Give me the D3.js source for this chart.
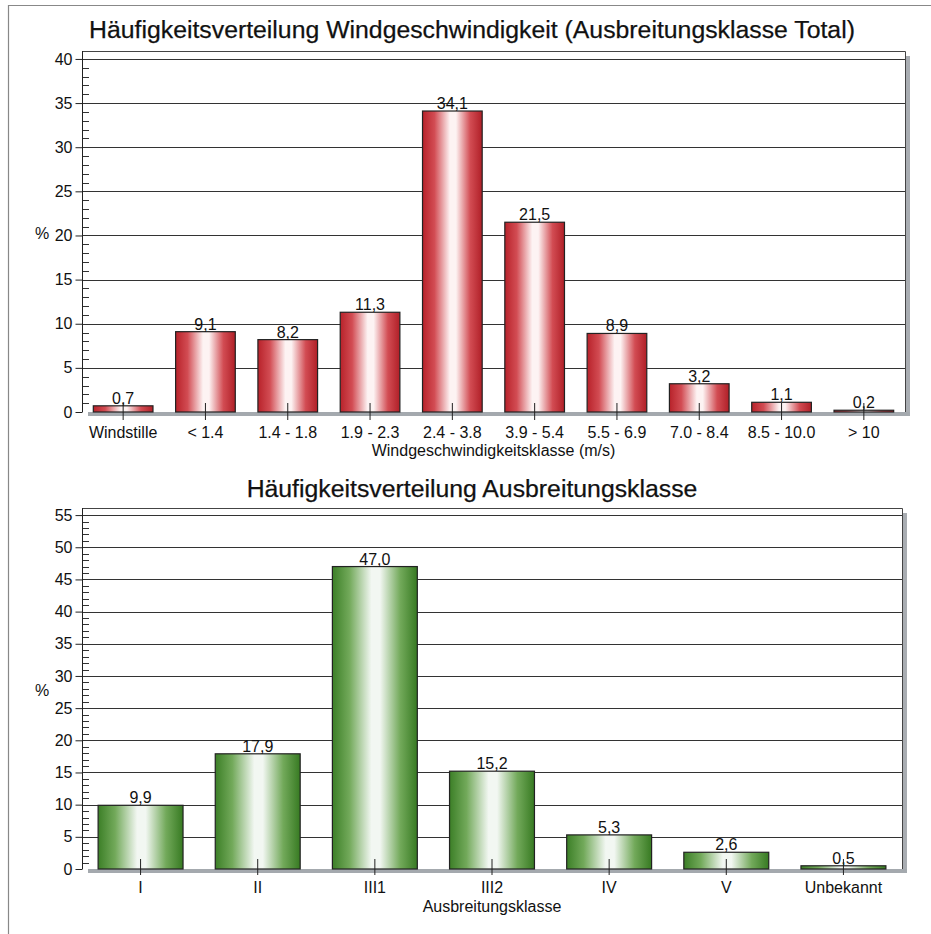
<!DOCTYPE html>
<html><head><meta charset="utf-8">
<script src="https://cdn.jsdelivr.net/npm/d3@7"></script>
<style>
html,body{margin:0;padding:0;background:#fff;}
svg{display:block;font-family:"Liberation Sans",Arial,sans-serif;}
</style></head>
<body>
<svg id="c" width="931" height="934"></svg>
<script>
// ---- data ----
const windCategories = ["Windstille","< 1.4","1.4 - 1.8","1.9 - 2.3","2.4 - 3.8","3.9 - 5.4","5.5 - 6.9","7.0 - 8.4","8.5 - 10.0","> 10"];
const windValues = [0.7, 9.1, 8.2, 11.3, 34.1, 21.5, 8.9, 3.2, 1.1, 0.2];
const windTicks = [0,5,10,15,20,25,30,35,40];
const classCategories = ["I","II","III1","III2","IV","V","Unbekannt"];
const classValues = [9.9, 17.9, 47.0, 15.2, 5.3, 2.6, 0.5];
const classTicks = [0,5,10,15,20,25,30,35,40,45,50,55];
const titles = ["Häufigkeitsverteilung Windgeschwindigkeit (Ausbreitungsklasse Total)", "Häufigkeitsverteilung Ausbreitungsklasse"];
const xTitles = ["Windgeschwindigkeitsklasse (m/s)", "Ausbreitungsklasse"];
const yTitle = "%";

const svg = d3.select("#c");
const defs = svg.append("defs");
function grad(id, edgeL, mid, light, edgeR){
  const g = defs.append("linearGradient").attr("id", id).attr("x1","0").attr("x2","1").attr("y1","0").attr("y2","0");
  [[0,edgeL],[0.2,mid],[0.46,light],[0.56,light],[0.8,mid],[1,edgeR]].forEach(s=>g.append("stop").attr("offset",s[0]).attr("stop-color",s[1]));
}
grad("gRed", "#b8222a", "#d24c53", "#fdf3f3", "#b01f27");
grad("gGreen", "#3c7f27", "#72a95a", "#f2f7f2", "#377a22");

// outer frame (top & left)
svg.append("path").attr("d","M8.5,934 V5.5 H931").attr("fill","none").attr("stroke","#888").attr("stroke-width",1.2);

const fmt = v => d3.format(".1f")(v).replace(".", ",");

function chart(cfg){
  const {cats, vals, ticks, x0, x1, yTop, y0, dmax, grad, title, titleY, xTitle, tickUp, tickDown, labY, xtY} = cfg;
  const g = svg.append("g");
  const x = d3.scaleBand().domain(cats).range([x0, x1]).paddingInner(0.275).paddingOuter(0.1375);
  const xc = d3.scaleBand().domain(cats).range([x0, x1]);
  const y = d3.scaleLinear().domain([0, dmax]).range([y0, yTop]);

  // title
  g.append("text").attr("x", 472).attr("y", titleY).attr("text-anchor","middle")
    .attr("font-size", 24.8).attr("fill","#111").attr("stroke","#111").attr("stroke-width",0.25).text(title);

  // right shadow & floor
  g.append("rect").attr("x", x1+1).attr("y", yTop+5).attr("width", 4).attr("height", y0 - yTop - 1).attr("fill","#a9adb2");
  g.append("rect").attr("x", x0+6).attr("y", y0).attr("width", x1 - x0 - 1).attr("height", 4).attr("fill","#a4a9ae");

  // gridlines
  g.append("g").selectAll("line").data(ticks.filter(t=>t>0)).join("line")
    .attr("x1", x0).attr("x2", x1).attr("y1", d=>Math.round(y(d))+0.5).attr("y2", d=>Math.round(y(d))+0.5)
    .attr("stroke","#333").attr("stroke-width",1.1);

  // plot box top/right
  g.append("path").attr("d", `M${x0},${yTop+0.5} H${x1+0.5} V${y0}`).attr("fill","none").attr("stroke","#444").attr("stroke-width",1);

  // minor ticks
  const minors = d3.range(1, ticks[ticks.length-1]).filter(v => v % 5 !== 0);
  g.append("g").selectAll("line").data(minors).join("line")
    .attr("x1", x0).attr("x2", x0+7).attr("y1", d=>Math.round(y(d))+0.5).attr("y2", d=>Math.round(y(d))+0.5)
    .attr("stroke","#333").attr("stroke-width",1);

  // y axis
  const ya = d3.axisLeft(y).tickValues(ticks).tickSize(7).tickPadding(3).tickFormat(d3.format("d"));
  const yg = g.append("g").attr("transform", `translate(${x0+0.5},0)`).call(ya);
  yg.select(".domain").attr("d", `M0,${yTop}V${y0}`).attr("stroke","#222");
  yg.selectAll(".tick line").attr("stroke","#222");
  yg.selectAll("text").attr("font-size",16).attr("fill","#111").attr("font-family","Liberation Sans, Arial, sans-serif");
  g.append("text").attr("x", 42).attr("y", (yTop+y0)/2 + 7).attr("text-anchor","middle").attr("font-size",16).attr("fill","#111").text(yTitle);

  // bars
  const data = cats.map((c,i)=>({c, v: vals[i]}));
  g.append("g").selectAll("rect").data(data).join("rect")
    .attr("x", d=>x(d.c)).attr("width", x.bandwidth())
    .attr("y", d=>y(d.v)).attr("height", d=>y0 - y(d.v))
    .attr("fill", `url(#${grad})`).attr("stroke","#222").attr("stroke-width",1.2);

  // value labels
  g.append("g").selectAll("text").data(data).join("text")
    .attr("x", d=>x(d.c)+x.bandwidth()/2).attr("y", d=>y(d.v)-2)
    .attr("text-anchor","middle").attr("font-size",16).attr("fill","#111").text(d=>fmt(d.v));

  // x axis category ticks + labels
  const xa = d3.axisBottom(xc).tickSize(0).tickPadding(0);
  const xg = g.append("g").attr("transform", `translate(0,${y0})`).call(xa);
  xg.select(".domain").remove();
  xg.selectAll(".tick line").attr("y1", -tickUp).attr("y2", tickDown).attr("stroke","#222");
  xg.selectAll(".tick text").attr("y", labY - y0).attr("dy", 0).attr("font-size",16).attr("fill","#111")
    .attr("font-family","Liberation Sans, Arial, sans-serif");
  g.append("text").attr("x", (x0+x1)/2).attr("y", xtY).attr("text-anchor","middle").attr("font-size",16).attr("fill","#111").text(xTitle);
}

chart({cats: windCategories, vals: windValues, ticks: windTicks, x0: 82, x1: 905, yTop: 51, y0: 412, dmax: 40.9,
  grad: "gRed", title: titles[0], titleY: 38, xTitle: xTitles[0], tickUp: 9, tickDown: 8, labY: 438, xtY: 456});
chart({cats: classCategories, vals: classValues, ticks: classTicks, x0: 82, x1: 902, yTop: 508, y0: 869, dmax: 56.1,
  grad: "gGreen", title: titles[1], titleY: 497, xTitle: xTitles[1], tickUp: 10, tickDown: 6, labY: 893, xtY: 912});
</script>
</body></html>
